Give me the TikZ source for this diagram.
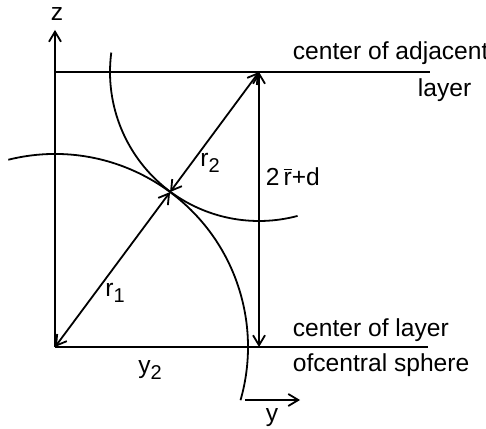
\documentclass[tikz,border=0pt]{standalone}
\usepackage{fontspec}
\setmainfont{Liberation Sans}
\usetikzlibrary{arrows.meta,calc}
\newcommand{\rbar}{\leavevmode\vbox{\hrule height 0.6pt\kern1.2pt\hbox{r}}}
\begin{document}
\begin{tikzpicture}[x=0.5pt,y=0.5pt,line width=0.9pt,
  arr/.style={-{Straight Barb[length=5pt,width=6pt]}},
  darr/.style={{Straight Barb[length=5pt,width=6pt]}-{Straight Barb[length=5pt,width=6pt]}},
  lbl/.style={inner sep=0pt,font=\fontsize{12.3}{15}\selectfont}]
\useasboundingbox (0,0) rectangle (486,428);
\coordinate (O) at (55,81);
\coordinate (ztop) at (55,398);
\coordinate (P) at (259,356);
\coordinate (C) at ($(O)+(53.4:193)$);
\coordinate (tl) at (55,356);
\coordinate (tr) at (430,356);
\coordinate (br) at (428,81);
\coordinate (Pb) at (259,81);
\coordinate (ya) at (245,28);
\coordinate (yb) at (300,28);
% axes and layer lines
\draw[arr] (O) -- (ztop);
\draw (tl) -- (tr);
\draw (O) -- (br);
% radii
\draw[darr] (O) -- (C);
\draw[darr] (C) -- (P);
\draw[darr] (P) -- (Pb);
% spheres
\draw ($(O)+(104:193)$) arc[start angle=104,end angle=-16,radius=193];
\draw ($(P)+(172.5:149)$) arc[start angle=172.5,end angle=285,radius=149];
% y arrow
\draw[arr] (ya) -- (yb);
% labels
\node[lbl] (z) at (57,414) {z};
\node[lbl] (r2) at (210,265) {r\raisebox{-0.5ex}{\fontsize{10}{11}\selectfont 2}};
\node[lbl] (r1) at (115,135) {r\raisebox{-0.5ex}{\fontsize{10}{11}\selectfont 1}};
\node[lbl,anchor=west] (h) at (265,251) {2\,\rbar+d};
\node[lbl,anchor=west] (ca) at (292,375) {center of adjacent};
\node[lbl,anchor=west] (la) at (417,338) {layer};
\node[lbl,anchor=west] (cl) at (292,98) {center of layer};
\node[lbl,anchor=west] (cs) at (292,63) {ofcentral sphere};
\node[lbl] (y2) at (150,58) {y\raisebox{-0.5ex}{\fontsize{10}{11}\selectfont 2}};
\node[lbl] (y) at (272,10) {y};
\end{tikzpicture}
\end{document}
